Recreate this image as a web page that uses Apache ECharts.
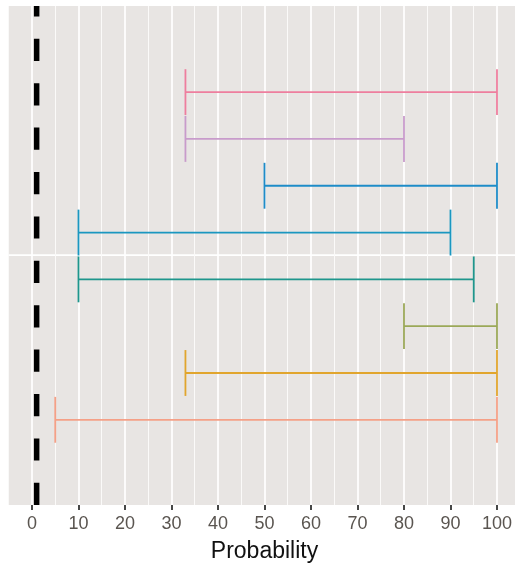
<!DOCTYPE html>
<html>
<head>
<meta charset="utf-8">
<script src="https://cdn.jsdelivr.net/npm/echarts@6/dist/echarts.min.js"></script>
<style>
html,body{margin:0;padding:0;background:#ffffff;}
#chart{width:515px;height:570px;}
</style>
</head>
<body>
<div id="chart"></div>
<script>
// ---- data ----
const rowPos     = [8, 7, 6, 5, 4, 3, 2, 1];
const lowerVals  = [33, 33, 50, 10, 10, 80, 33, 5];
const upperVals  = [100, 80, 100, 90, 95, 100, 100, 100];
const barColors  = ['#EE7E9E', '#C89BCB', '#1E8CC8', '#1B97C0', '#1E968C', '#9BA858', '#E1A52D', '#F5A087'];
const xTickVals  = [0, 10, 20, 30, 40, 50, 60, 70, 80, 90, 100];
const refLineX   = 1;
const hLineY     = 4.52;
const yRange     = [-0.82, 9.84];
const xPanel     = [-5, 105];
const xTitle     = 'Probability';

// ---- styles ----
const capHalf = 0.49;
const panelBg = '#E8E5E3';
const FONT = "'Liberation Sans', Arial, sans-serif";

const barData = rowPos.map((r, i) => [lowerVals[i], upperVals[i], r, i]);

const chart = echarts.init(document.getElementById('chart'), null, {renderer: 'canvas'});
chart.setOption({
  animation: false,
  backgroundColor: '#ffffff',
  grid: {left: 32, right: 17.7, top: 6, bottom: 65, containLabel: false},
  xAxis: {
    type: 'value',
    min: xTickVals[0],
    max: xTickVals[xTickVals.length - 1],
    interval: 10,
    name: xTitle,
    nameLocation: 'middle',
    nameGap: 35,
    nameTextStyle: {color: '#111111', fontSize: 23, fontFamily: FONT},
    axisLine: {show: false, onZero: false},
    axisTick: {show: true, length: 5, lineStyle: {color: '#333333', width: 1.8}},
    axisLabel: {color: '#5a5550', fontSize: 18, fontFamily: FONT, margin: 10},
    splitLine: {show: true, lineStyle: {color: '#ffffff', width: 1.7}},
    minorTick: {show: false, splitNumber: 2},
    minorSplitLine: {show: true, lineStyle: {color: '#fbfaf9', width: 1}}
  },
  yAxis: {
    type: 'value',
    min: yRange[0],
    max: yRange[1],
    show: true,
    axisLine: {show: false, onZero: false},
    axisTick: {show: false},
    axisLabel: {show: false},
    splitLine: {show: false}
  },
  series: [
    {
      name: 'panel',
      type: 'custom',
      z: -10,
      clip: false,
      silent: true,
      data: [[xPanel[0], xPanel[1]]],
      renderItem: function (params, api) {
        const tl = api.coord([xPanel[0], yRange[1]]);
        const br = api.coord([xPanel[1], yRange[0]]);
        const h1 = api.coord([xPanel[0], hLineY]);
        const h2 = api.coord([xPanel[1], hLineY]);
        return {
          type: 'group',
          children: [
            {type: 'rect', shape: {x: tl[0], y: tl[1], width: br[0] - tl[0], height: br[1] - tl[1]},
             style: {fill: panelBg}},
            {type: 'line', shape: {x1: h1[0], y1: h1[1], x2: h2[0], y2: h2[1]},
             style: {stroke: '#ffffff', lineWidth: 1.7}}
          ]
        };
      }
    },
    {
      name: 'errorbars',
      type: 'custom',
      clip: false,
      silent: true,
      encode: {x: [0, 1], y: 2},
      data: barData,
      renderItem: function (params, api) {
        const lo = api.value(0), hi = api.value(1), y = api.value(2);
        const color = barColors[api.value(3)];
        const a = api.coord([lo, y]), b = api.coord([hi, y]);
        const aT = api.coord([lo, y + capHalf]), aB = api.coord([lo, y - capHalf]);
        const bT = api.coord([hi, y + capHalf]), bB = api.coord([hi, y - capHalf]);
        const st = {stroke: color, lineWidth: 1.8};
        return {
          type: 'group',
          children: [
            {type: 'line', shape: {x1: a[0], y1: a[1], x2: b[0], y2: b[1]}, style: st},
            {type: 'line', shape: {x1: aT[0], y1: aT[1], x2: aB[0], y2: aB[1]}, style: st},
            {type: 'line', shape: {x1: bT[0], y1: bT[1], x2: bB[0], y2: bB[1]}, style: st}
          ]
        };
      }
    },
    {
      name: 'refline',
      type: 'custom',
      clip: false,
      silent: true,
      z: 5,
      data: [[refLineX]],
      renderItem: function (params, api) {
        const x = api.value(0);
        const p1 = api.coord([x, yRange[0]]);
        const p2 = api.coord([x, yRange[1]]);
        return {
          type: 'line',
          shape: {x1: p1[0], y1: p1[1], x2: p2[0], y2: p2[1]},
          style: {stroke: '#000000', lineWidth: 5.5, lineDash: [22.2, 22.2]}
        };
      }
    }
  ]
});
</script>
</body>
</html>
